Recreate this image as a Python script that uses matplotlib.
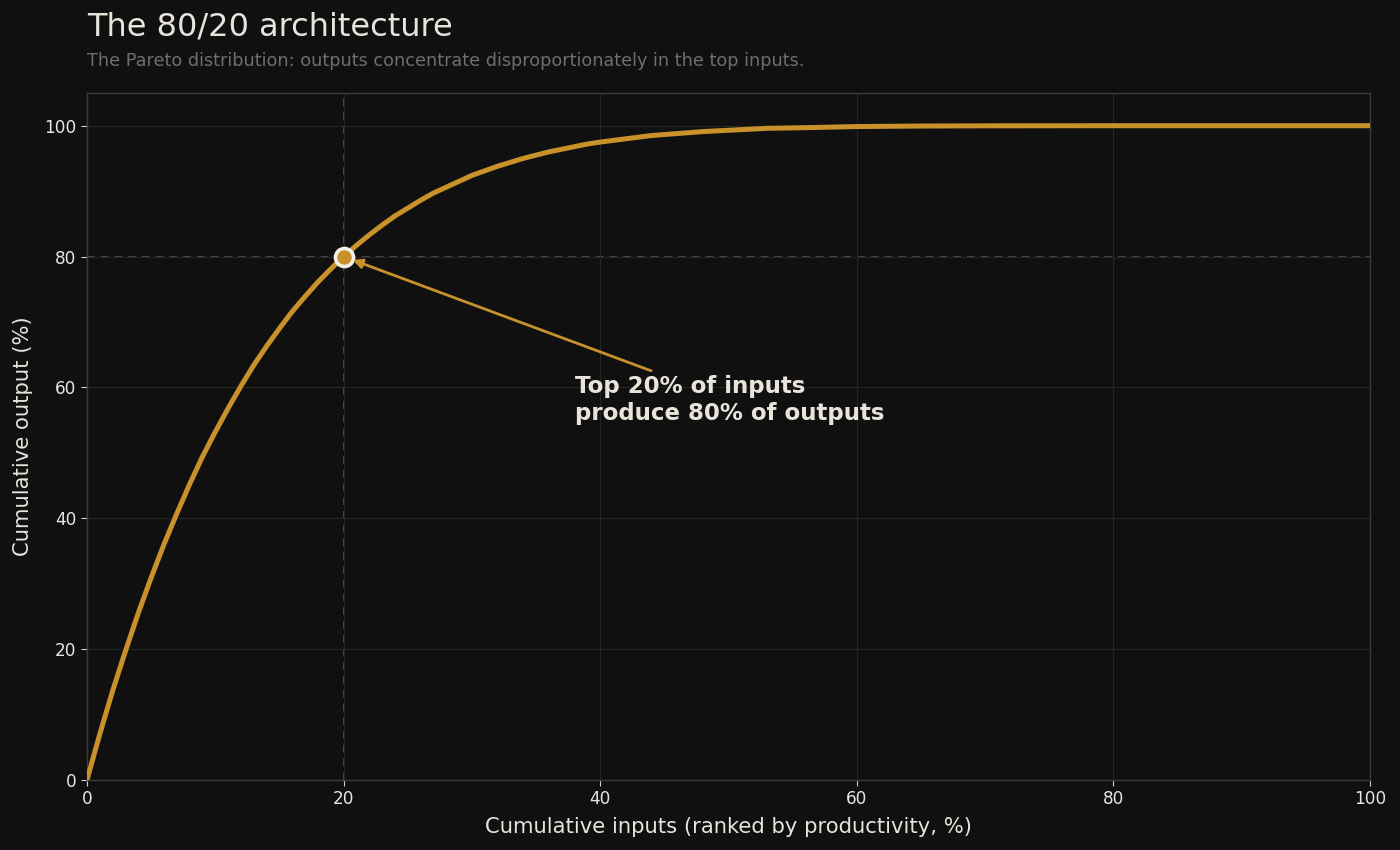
import matplotlib
matplotlib.use("Agg")
import matplotlib.pyplot as plt

# Curve points (cumulative inputs %, cumulative output %)
inputs_pct = [0, 1, 2, 3, 4, 5, 6, 7, 8, 9, 10, 11, 12, 13, 14, 15, 16, 17, 18, 19,
              20, 21, 22, 23, 24, 25, 26, 27, 28, 29, 30, 31, 32, 33, 34, 35, 36, 37,
              38, 39, 40, 42, 44, 46, 48, 50, 53, 56, 60, 65, 70, 80, 90, 100]
output_pct = [0.0, 7.0, 13.6, 19.7, 25.5, 30.9, 36.0, 40.7, 45.2, 49.4, 53.2, 56.8,
              60.2, 63.4, 66.3, 69.0, 71.6, 73.9, 76.1, 78.1, 80.0, 81.7, 83.3, 84.8,
              86.2, 87.4, 88.6, 89.7, 90.6, 91.5, 92.4, 93.1, 93.8, 94.4, 95.0, 95.5,
              96.0, 96.4, 96.8, 97.2, 97.5, 98.0, 98.5, 98.8, 99.1, 99.3, 99.6, 99.7,
              99.87, 99.95, 99.98, 100.0, 100.0, 100.0]

pivot_x = 20
pivot_y = 80
x_ticks = [0, 20, 40, 60, 80, 100]
y_ticks = [0, 20, 40, 60, 80, 100]

BG = "#101010"
GOLD = "#c8912a"
TEXT = "#e8e4dc"
MUTED = "#6e6e6e"

fig = plt.figure(figsize=(14, 8.5), dpi=100, facecolor=BG)
ax = fig.add_axes([0.0621, 0.0824, 0.9165, 0.8082])
ax.set_facecolor(BG)

ax.grid(True, color="#252525", linewidth=0.8, zorder=0)
ax.axvline(pivot_x, color="#585858", linestyle=(0, (5, 4)), linewidth=1.1, zorder=1)
ax.axhline(pivot_y, color="#585858", linestyle=(0, (5, 4)), linewidth=1.1, zorder=1)

ax.plot(inputs_pct, output_pct, color=GOLD, linewidth=3.6, solid_joinstyle="round", zorder=3)
ax.plot([pivot_x], [pivot_y], marker="o", markersize=13, markerfacecolor=GOLD,
        markeredgecolor="#f2efe8", markeredgewidth=2.6, zorder=4)

ax.annotate("Top 20% of inputs\nproduce 80% of outputs",
            xy=(pivot_x, pivot_y), xytext=(38, 58.1),
            ha="left", va="center", fontsize=16.5, fontweight="bold", color=TEXT,
            arrowprops=dict(arrowstyle="-|>", color=GOLD, lw=2, mutation_scale=14,
                            shrinkA=3, shrinkB=7),
            zorder=5)

ax.set_xlim(0, 100)
ax.set_ylim(0, 105)
ax.set_xticks(x_ticks)
ax.set_yticks(y_ticks)
ax.tick_params(colors="#cfcfcf", labelsize=12.2, length=4, color="#cfcfcf")
for lab in ax.get_xticklabels() + ax.get_yticklabels():
    lab.set_color("#e6e6e6")
for spine in ax.spines.values():
    spine.set_color("#3c3c3c")
    spine.set_linewidth(1.0)

ax.set_xlabel("Cumulative inputs (ranked by productivity, %)", fontsize=15.2, color=TEXT, labelpad=6)
ax.set_ylabel("Cumulative output (%)", fontsize=15.2, color=TEXT, labelpad=8)

fig.text(0.0621, 0.987, "The 80/20 architecture", fontsize=23, color=TEXT, ha="left", va="top")
fig.text(0.0621, 0.939, "The Pareto distribution: outputs concentrate disproportionately in the top inputs.",
         fontsize=12.7, color=MUTED, ha="left", va="top")

fig.savefig("out.png", dpi=100, facecolor=BG)
